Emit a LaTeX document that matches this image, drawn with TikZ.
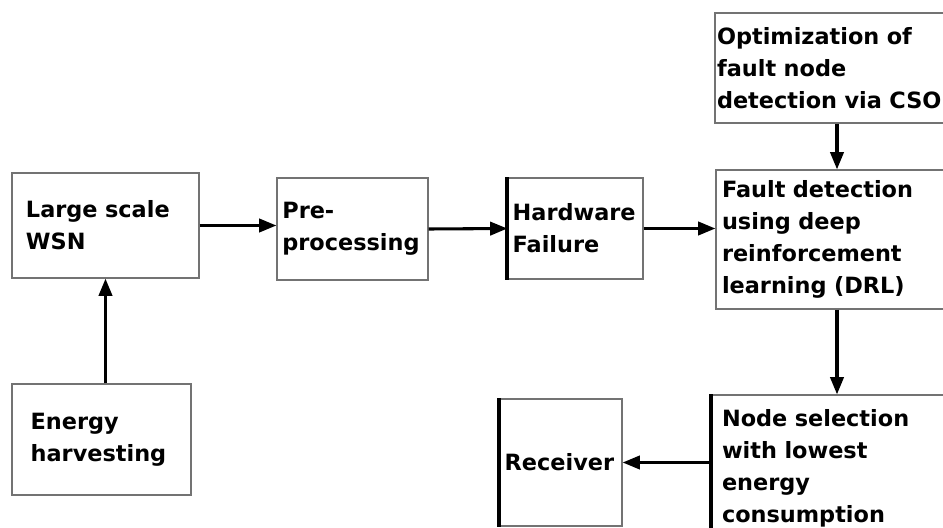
\documentclass[tikz,border=0pt]{standalone}
\usepackage{fontspec}
\setmainfont{DejaVu Sans}
\usetikzlibrary{arrows.meta, positioning}

\begin{document}
\begin{tikzpicture}[
    x=0.75pt, y=-0.75pt,
    every node/.style={font=\bfseries\fontsize{16.8}{24}\selectfont},
    block/.style={draw=black!55, line width=0.9pt, align=left, inner ysep=2pt},
    bar/.style={line width=3pt},
    arrow/.style={-{Triangle[length=13pt, width=10pt]}, line width=2.3pt}
]
    \useasboundingbox (0,0) rectangle (943,528);
    \clip (0,0) rectangle (943,528);

    % left column
    \node (wsn) [block, minimum width=140.25pt, minimum height=78.75pt,
        inner xsep=10.5pt, text width=119.25pt] at (105.5,225.5) {Large scale\\WSN};
    \node (energy) [block, minimum width=134.25pt, minimum height=83.25pt,
        inner xsep=14pt, text width=106.25pt] at (101.5,439.5) {Energy\\harvesting};

    % middle chain
    \node (pre) [block, minimum width=113.25pt, minimum height=76.5pt,
        inner xsep=4pt, text width=105.25pt] at (352.5,229) {Pre-\\processing};
    \node (hw) [block, minimum width=101.25pt, minimum height=75.75pt,
        inner xsep=3.5pt, text width=94.25pt] at (575.5,228.5) {Hardware\\Failure};
    \node (recv) [block, minimum width=91.5pt, minimum height=95.25pt,
        inner xsep=3.5pt, text width=84.5pt] at (561,462.5) {Receiver};

    % right column, running off the page edge
    \node (opt) [block, minimum width=183pt, minimum height=82.5pt,
        inner xsep=1.5pt, text width=180pt] at (837,68)
        {Optimization of\\fault node\\detection via CSO};
    \node (fault) [block, minimum width=181.5pt, minimum height=104.25pt,
        inner xsep=4.5pt, text width=172.5pt] at (837,239.5)
        {Fault detection\\using deep\\reinforcement\\learning (DRL)};
    \node (sel) [block, minimum width=187.5pt, minimum height=109.5pt,
        inner xsep=7.5pt, text width=172.5pt] at (837,468)
        {Node selection\\with lowest\\energy\\consumption};

    \draw [bar] (hw.north west) -- (hw.south west);
    \draw [bar] (recv.north west) -- (recv.south west);
    \draw [bar] (sel.north west) -- (sel.south west);

    \draw [arrow] (wsn.south |- energy.north) -- (wsn.south);
    \draw [arrow] (wsn.east) -- (pre.west |- wsn.east);
    \draw [arrow] (pre.east) -- (hw.west);
    \draw [arrow] (hw.east) -- (fault.west |- hw.east);
    \draw [arrow] (opt.south) -- (fault.north);
    \draw [arrow] (fault.south) -- (sel.north);
    \draw [arrow] (sel.west |- recv.east) -- (recv.east);
\end{tikzpicture}
\end{document}
